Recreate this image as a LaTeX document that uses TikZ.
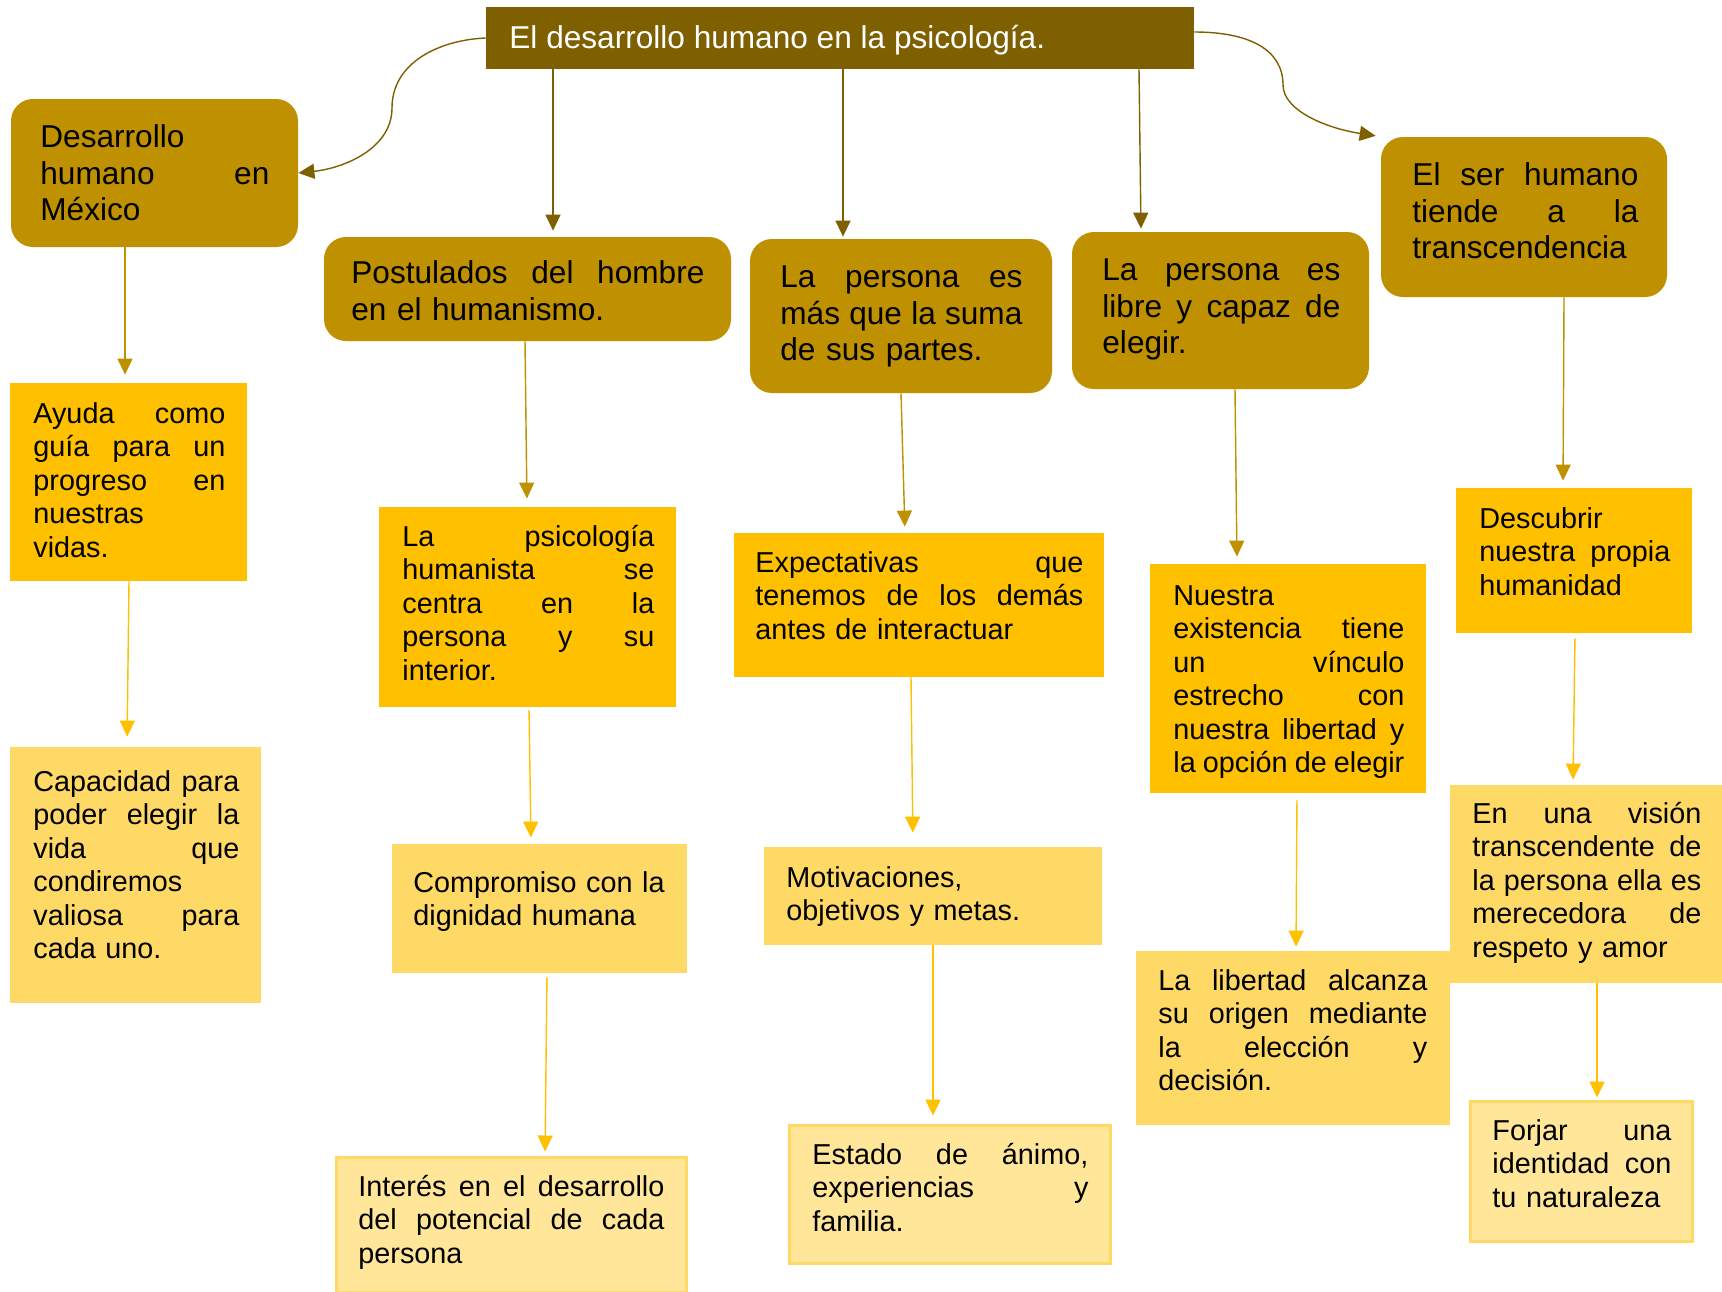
\documentclass[tikz,border=0pt]{standalone}
\usepackage{fontspec}
\setmainfont{Liberation Sans}
\usetikzlibrary{arrows.meta,fit}
\definecolor{cTop}{HTML}{7F6000}
\definecolor{cLtwo}{HTML}{BF9000}
\definecolor{cLthree}{HTML}{FFC000}
\definecolor{cLfour}{HTML}{FFD966}
\definecolor{cLfive}{HTML}{FFE699}
\newcommand\curw{100pt}
\newcommand\J[1]{\leavevmode\hbox to \curw{#1}}
\newcommand\s{\hfill}
\begin{document}
\begin{tikzpicture}[x=0.5pt,y=-0.5pt,
 topbox/.style={fill=cTop, inner sep=0pt},
 lvtwo/.style={fill=cLtwo, rounded corners=11pt, inner sep=0pt},
 lvthree/.style={fill=cLthree, inner sep=0pt},
 lvfour/.style={fill=cLfour, inner sep=0pt},
 lvfive/.style={fill=cLfive, draw=cLfour, line width=1.5pt, inner sep=0pt},
 tw/.style={text width=#1, execute at begin node={\def\curw{#1}}},
 txttwo/.style={anchor=north west, inner sep=0pt, align=left, yshift=12.845pt, font=\fontsize{15.8}{18.35}\selectfont},
 txtlow/.style={anchor=north west, inner sep=0pt, align=left, yshift=11.725pt, font=\fontsize{14.4}{16.75}\selectfont},
 arr/.style={line width=0.7pt, -{Triangle[length=8pt,width=7.5pt]}},
 arrT/.style={arr, draw=cTop, fill=cTop},
 arrB/.style={arr, draw=cLtwo, fill=cLtwo},
 arrC/.style={arr, draw=cLthree, fill=cLthree}
]
\useasboundingbox (0,0) rectangle (1722,1291);
\fill[white] (0,0) rectangle (1722,1291);

% boxes
\node[topbox, fit={(486,7)(1194,69)}] (top) {};
\node[lvtwo, fit={(11,99)(298,247)}] (desm) {};
\node[lvtwo, fit={(324,237)(731,341)}] (post) {};
\node[lvtwo, fit={(750,239)(1052,393)}] (mas) {};
\node[lvtwo, fit={(1072,232)(1369,389)}] (libre) {};
\node[lvtwo, fit={(1381,137)(1667,297)}] (ser) {};
\node[lvthree, fit={(10,383)(247,581)}] (ayuda) {};
\node[lvthree, fit={(379,507)(676,707)}] (psico) {};
\node[lvthree, fit={(734,533)(1104,677)}] (expect) {};
\node[lvthree, fit={(1150,564)(1426,793)}] (nuestra) {};
\node[lvthree, fit={(1456,488)(1692,633)}] (desc) {};
\node[lvfour, fit={(10,747)(261,1003)}] (capac) {};
\node[lvfour, fit={(392,844)(687,973)}] (comp) {};
\node[lvfour, fit={(764,847)(1102,945)}] (motiv) {};
\node[lvfour, fit={(1136,951)(1450,1125)}] (libert) {};
\node[lvfour, fit={(1450,785)(1730,983)}] (vision) {};
\node[lvfive, fit={(336,1157)(686,1292)}] (interes) {};
\node[lvfive, fit={(789,1125)(1110,1263)}] (estado) {};
\node[lvfive, fit={(1470,1101)(1692,1241)}] (forjar) {};

% texts
\node[anchor=base west, inner sep=0pt, text=white, font=\fontsize{15.8}{18.35}\selectfont] (toptext) at (509,48) {El desarrollo humano en la psicología.};
\node[txttwo, tw=114.5pt] (tdesm) at (40,147) {\strut Desarrollo\\ \J{humano\s en}\\ México};
\node[txttwo, tw=176.5pt] (tpost) at (351,283) {\strut\J{Postulados\s del\s hombre}\\ en el humanismo.};
\node[txttwo, tw=121pt] (tmas) at (780,287) {\strut\J{La\s persona\s es}\\ \J{más\s que\s la\s suma}\\ de sus partes.};
\node[txttwo, tw=119pt] (tlibre) at (1102,280) {\strut\J{La\s persona\s es}\\ \J{libre\s y\s capaz\s de}\\ elegir.};
\node[txttwo, tw=113pt] (tser) at (1412,185) {\strut\J{El\s ser\s humano}\\ \J{tiende\s a\s la}\\ transcendencia};

\node[txtlow, tw=96pt] (tayuda) at (33,423) {\strut\J{Ayuda\s como}\\ \J{guía\s para\s un}\\ \J{progreso\s en}\\ nuestras\\ vidas.};
\node[txtlow, tw=126pt] (tpsico) at (402,546) {\strut\J{La\s psicología}\\ \J{humanista\s se}\\ \J{centra\s en\s la}\\ \J{persona\s y\s su}\\ interior.};
\node[txtlow, tw=164pt] (texpect) at (755,572) {\strut\J{Expectativas\s que}\\ \J{tenemos\s de\s los\s demás}\\ antes de interactuar};
\node[txtlow, tw=115.5pt] (tnuestra) at (1173,605) {\strut Nuestra\\ \J{existencia\s tiene}\\ \J{un\s vínculo}\\ \J{estrecho\s con}\\ \J{nuestra\s libertad\s y}\\ \J{la\s opción\s de\s elegir}};
\node[txtlow, tw=95.5pt] (tdesc) at (1479,528) {\strut Descubrir\\ \J{nuestra\s propia}\\ humanidad};

\node[txtlow, tw=103pt] (tcapac) at (33,791) {\strut\J{Capacidad\s para}\\ \J{poder\s elegir\s la}\\ \J{vida\s que}\\ condiremos\\ \J{valiosa\s para}\\ cada uno.};
\node[txtlow, tw=135pt] (tcomp) at (413,892) {\strut Compromiso con la\\ dignidad humana};
\node[txtlow, tw=150pt] (tmotiv) at (786,887) {\strut Motivaciones,\\ objetivos y metas.};
\node[txtlow, tw=134.5pt] (tlibert) at (1158,990) {\strut\J{La\s libertad\s alcanza}\\ \J{su\s origen\s mediante}\\ \J{la\s elección\s y}\\ decisión.};
\node[txtlow, tw=114.5pt] (tvision) at (1472,823) {\strut\J{En\s una\s visión}\\ \J{transcendente\s de}\\ \J{la\s persona\s ella\s es}\\ \J{merecedora\s de}\\ respeto y amor};

\node[txtlow, tw=153pt] (tinteres) at (358,1196) {\strut\J{Interés\s en\s el\s desarrollo}\\ \J{del\s potencial\s de\s cada}\\ persona};
\node[txtlow, tw=138pt] (testado) at (812,1164) {\strut\J{Estado\s de\s ánimo,}\\ \J{experiencias\s y}\\ familia.};
\node[txtlow, tw=89.5pt] (tforjar) at (1492,1140) {\strut\J{Forjar\s una}\\ \J{identidad\s con}\\ tu naturaleza};

% connectors from the title
\coordinate (lm) at (392,108);
\coordinate (rm) at (1283,85);
\draw[arrT, fill=none] (top.west) .. controls (440,40) and (392,62) .. (lm) .. controls (392,148) and (345,168) .. (desm.east);
\draw[arrT, fill=none, shorten >=2.5pt] ([yshift=3pt]top.east) .. controls (1250,32) and (1283,50) .. (rm) .. controls (1283,110) and (1325,128) .. (ser.north west);
\draw[arrT, shorten >=3pt] (top.south -| 553,0) -- (post.north -| 553,0);
\draw[arrT, shorten >=1pt] (top.south -| 843,0) -- (mas.north -| 843,0);
\draw[arrT, shorten >=1.5pt] (top.south -| 1139,0) -- (libre.north -| 1141,0);

% level 2 -> 3
\draw[arrB, shorten >=4pt] (desm.south -| 125,0) -- (ayuda.north -| 125,0);
\draw[arrB, shorten >=4pt] (post.south -| 525,0) -- (psico.north -| 527,0);
\draw[arrB, shorten >=3pt] (mas.south -| 901,0) -- (expect.north -| 905,0);
\draw[arrB, shorten >=3.5pt] (libre.south -| 1235,0) -- (nuestra.north -| 1237,0);
\draw[arrB, shorten >=3.5pt] (ser.south -| 1564,0) -- (desc.north -| 1563,0);

% level 3 -> 4
\draw[arrC, shorten >=5pt] (ayuda.south -| 129,0) -- (capac.north -| 127,0);
\draw[arrC, shorten <=1.5pt, shorten >=3pt] (psico.south -| 529,0) -- (comp.north -| 531,0);
\draw[arrC, shorten >=7pt] (expect.south -| 911,0) -- (motiv.north -| 913,0);
\draw[arrC, shorten <=3.5pt, shorten >=2pt] (nuestra.south -| 1297,0) -- (libert.north -| 1296,0);
\draw[arrC, shorten <=2.5pt, shorten >=2.5pt] (desc.south -| 1575,0) -- (vision.north -| 1573,0);

% level 4 -> 5
\draw[arrC, shorten <=2pt, shorten >=2pt] (comp.south -| 547,0) -- (interes.north -| 545,0);
\draw[arrC, shorten >=4pt] (motiv.south -| 933,0) -- (estado.north -| 933,0);
\draw[arrC, shorten >=1pt] (vision.south -| 1597,0) -- (forjar.north -| 1597,0);
\end{tikzpicture}
\end{document}
